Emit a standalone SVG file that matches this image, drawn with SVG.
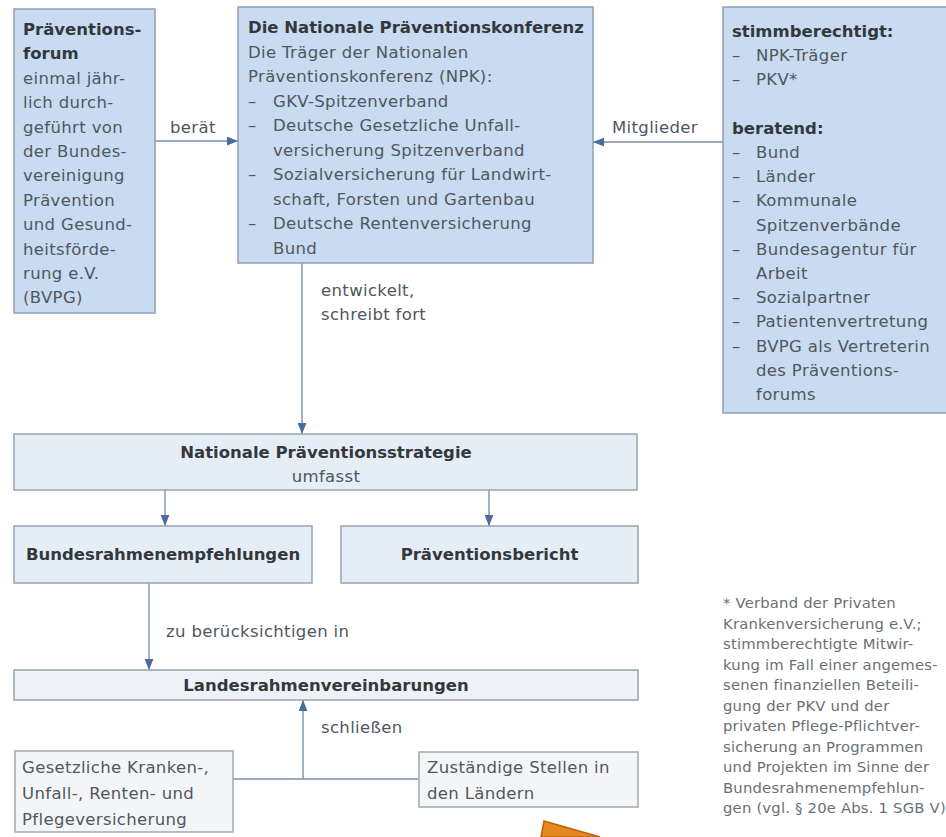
<svg xmlns="http://www.w3.org/2000/svg" width="946" height="837" viewBox="0 0 946 837">
<defs>
<marker id="ah" viewBox="0 0 10 8" refX="10" refY="4" markerWidth="11" markerHeight="9" markerUnits="userSpaceOnUse" orient="auto">
<path d="M0,0 L10,4 L0,8 Z" fill="#4b6c9b"/>
</marker>
<style>
.t{font-family:"DejaVu Sans","Liberation Sans",sans-serif;font-size:16.5px;fill:#50575e;letter-spacing:0.35px}
.b{font-family:"DejaVu Sans","Liberation Sans",sans-serif;font-size:16.5px;font-weight:bold;fill:#33383d}
.fn{font-family:"DejaVu Sans","Liberation Sans",sans-serif;font-size:14.8px;fill:#6a7076;letter-spacing:0.2px}
.top{fill:#c8dbf0;stroke:#8c9fb4;stroke-width:1.5}
.mid{fill:#e5edf6;stroke:#98a4b1;stroke-width:1.5}
.low{fill:#eef2f7;stroke:#98a4b1;stroke-width:1.5}
.grey{fill:#f4f5f6;stroke:#a3a9b0;stroke-width:1.5}
.c{fill:none;stroke:#7d90a7;stroke-width:1.4}
.m{text-anchor:middle}
</style>
</defs>
<rect width="946" height="837" fill="#ffffff"/>

<g id="connectors">
<line class="c" x1="155" y1="141" x2="238" y2="141" marker-end="url(#ah)"/>
<line class="c" x1="723" y1="142" x2="593" y2="142" marker-end="url(#ah)"/>
<line class="c" x1="302" y1="263" x2="302" y2="434" marker-end="url(#ah)"/>
<line class="c" x1="165" y1="490" x2="165" y2="526" marker-end="url(#ah)"/>
<line class="c" x1="489" y1="490" x2="489" y2="526" marker-end="url(#ah)"/>
<line class="c" x1="149" y1="583" x2="149" y2="670" marker-end="url(#ah)"/>
<line class="c" x1="233" y1="779" x2="419" y2="779"/>
<line class="c" x1="303" y1="779" x2="303" y2="700" marker-end="url(#ah)"/>
<text class="t" x="170" y="133">berät</text>
<text class="t" x="612" y="133">Mitglieder</text>
<text class="t" x="321" y="296">entwickelt,</text>
<text class="t" x="321" y="320">schreibt fort</text>
<text class="t" x="166" y="637">zu berücksichtigen in</text>
<text class="t" x="321" y="733">schließen</text>
</g>

<g id="praeventionsforum">
<rect class="top" x="14" y="9" width="141" height="304"/>
<text class="b" x="23" y="35">Präventions-</text>
<text class="b" x="23" y="59.4">forum</text>
<text class="t" x="23" y="83.8">einmal jähr-</text>
<text class="t" x="23" y="108.2">lich durch-</text>
<text class="t" x="23" y="132.6">geführt von</text>
<text class="t" x="23" y="157">der Bundes-</text>
<text class="t" x="23" y="181.4">vereinigung</text>
<text class="t" x="23" y="205.8">Prävention</text>
<text class="t" x="23" y="230.2">und Gesund-</text>
<text class="t" x="23" y="254.6">heitsförde-</text>
<text class="t" x="23" y="279">rung e.V.</text>
<text class="t" x="23" y="303.4">(BVPG)</text>
</g>

<g id="npk">
<rect class="top" x="238" y="7" width="355" height="256"/>
<text class="b" x="248" y="33">Die Nationale Präventionskonferenz</text>
<text class="t" x="248" y="57.5">Die Träger der Nationalen</text>
<text class="t" x="248" y="82">Präventionskonferenz (NPK):</text>
<text class="t" x="248" y="106.5">–</text><text class="t" x="273" y="106.5">GKV-Spitzenverband</text>
<text class="t" x="248" y="131">–</text><text class="t" x="273" y="131">Deutsche Gesetzliche Unfall-</text>
<text class="t" x="273" y="155.5">versicherung Spitzenverband</text>
<text class="t" x="248" y="180">–</text><text class="t" x="273" y="180">Sozialversicherung für Landwirt-</text>
<text class="t" x="273" y="204.5">schaft, Forsten und Gartenbau</text>
<text class="t" x="248" y="229">–</text><text class="t" x="273" y="229">Deutsche Rentenversicherung</text>
<text class="t" x="273" y="253.5">Bund</text>
</g>

<g id="mitglieder">
<rect class="top" x="723" y="7" width="230" height="406"/>
<text class="b" x="732" y="37">stimmberechtigt:</text>
<text class="t" x="732" y="61">–</text><text class="t" x="756" y="61">NPK-Träger</text>
<text class="t" x="732" y="85">–</text><text class="t" x="756" y="85">PKV*</text>
<text class="b" x="732" y="134">beratend:</text>
<text class="t" x="732" y="158">–</text><text class="t" x="756" y="158">Bund</text>
<text class="t" x="732" y="182">–</text><text class="t" x="756" y="182">Länder</text>
<text class="t" x="732" y="206">–</text><text class="t" x="756" y="206">Kommunale</text>
<text class="t" x="756" y="231">Spitzenverbände</text>
<text class="t" x="732" y="255">–</text><text class="t" x="756" y="255">Bundesagentur für</text>
<text class="t" x="756" y="279">Arbeit</text>
<text class="t" x="732" y="303">–</text><text class="t" x="756" y="303">Sozialpartner</text>
<text class="t" x="732" y="327">–</text><text class="t" x="756" y="327">Patientenvertretung</text>
<text class="t" x="732" y="352">–</text><text class="t" x="756" y="352">BVPG als Vertreterin</text>
<text class="t" x="756" y="376">des Präventions-</text>
<text class="t" x="756" y="400">forums</text>
</g>

<g id="strategie">
<rect class="mid" x="14" y="434" width="623" height="56"/>
<text class="b m" x="326" y="458">Nationale Präventionsstrategie</text>
<text class="t m" x="326" y="482">umfasst</text>
</g>

<g id="bundesrahmenempfehlungen">
<rect class="mid" x="14" y="526" width="298" height="57"/>
<text class="b m" x="163" y="560">Bundesrahmenempfehlungen</text>
</g>

<g id="praeventionsbericht">
<rect class="mid" x="341" y="526" width="297" height="57"/>
<text class="b m" x="489.5" y="560">Präventionsbericht</text>
</g>

<g id="landesrahmenvereinbarungen">
<rect class="low" x="14" y="670" width="624" height="30"/>
<text class="b m" x="326" y="691">Landesrahmenvereinbarungen</text>
</g>

<g id="versicherungen">
<rect class="grey" x="15" y="751" width="218" height="81"/>
<text class="t" x="22" y="773">Gesetzliche Kranken-,</text>
<text class="t" x="22" y="799">Unfall-, Renten- und</text>
<text class="t" x="22" y="825">Pflegeversicherung</text>
</g>

<g id="zustaendige">
<rect class="grey" x="419" y="752" width="219" height="55"/>
<text class="t" x="427" y="773">Zuständige Stellen in</text>
<text class="t" x="427" y="799">den Ländern</text>
</g>

<g id="fussnote">
<text class="fn" x="723" y="608">* Verband der Privaten</text>
<text class="fn" x="723" y="628.5">Krankenversicherung e.V.;</text>
<text class="fn" x="723" y="649">stimmberechtigte Mitwir-</text>
<text class="fn" x="723" y="669.5">kung im Fall einer angemes-</text>
<text class="fn" x="723" y="690">senen finanziellen Beteili-</text>
<text class="fn" x="723" y="710.5">gung der PKV und der</text>
<text class="fn" x="723" y="731">privaten Pflege-Pflichtver-</text>
<text class="fn" x="723" y="751.5">sicherung an Programmen</text>
<text class="fn" x="723" y="772">und Projekten im Sinne der</text>
<text class="fn" x="723" y="792.5">Bundesrahmenempfehlun-</text>
<text class="fn" x="723" y="813">gen (vgl. § 20e Abs. 1 SGB V)</text>
</g>

<polygon points="544,821 600,837 541,837" fill="#e8871c" stroke="#b9630f" stroke-width="1.5"/>
</svg>
